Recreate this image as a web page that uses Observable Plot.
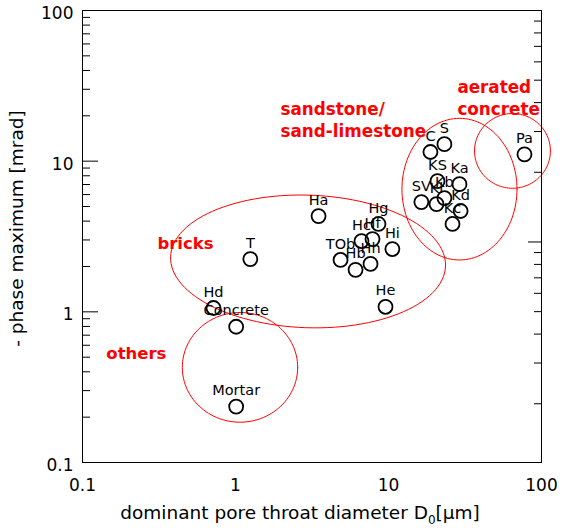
<!DOCTYPE html>
<html><head><meta charset="utf-8">
<script src="https://cdn.jsdelivr.net/npm/d3@7"></script>
<script src="https://cdn.jsdelivr.net/npm/@observablehq/plot@0.6"></script>
<style>body{margin:0;background:#fff}</style>
</head><body><div id="chart"></div>
<script>
// samples
const sampleNames  = ["Pa","S","C","KS","Ka","SV","Kl","Kb","Kd","Kc","Ha","Hg","Hc","Hf","Hi","TOb","Hb","Hh","He","T","Hd","Concrete","Mortar"];
const poreDiameter = [77.4,23.2,18.8,20.9,29.1,16.4,20.6,23.2,29.6,26.2,3.49,8.6,6.66,7.86,10.6,4.86,6.09,7.63,9.56,1.25,0.718,1.01,1.01];
const phaseMax     = [11.1,12.97,11.5,7.37,7.04,5.35,5.19,5.69,4.67,3.83,4.32,3.83,2.95,3.04,2.61,2.21,1.90,2.08,1.08,2.24,1.06,0.796,0.235];

// group ellipses (centre in data units, semi-axes in decades, rotation in degrees)
const groupNames = ["bricks","sandstone","aerated","others"];
const ellipseCx  = [2.98, 29.1, 64.6, 1.07];
const ellipseCy  = [2.16, 6.52, 11.7, 0.428];
const ellipseA   = [0.899, 0.376, 0.248, 0.377];
const ellipseB   = [0.440, 0.470, 0.248, 0.364];
const ellipseRot = [-2, 0, 0, 0];

// group labels
const groupLabels      = ["bricks","others","sandstone/\nsand-limestone","aerated\nconcrete"];
const groupLabelX      = [0.471, 0.225, 1.97, 28.2];
const groupLabelY      = [2.82, 0.527, 19.1, 26.5];
const groupLabelAnchor = ["middle","middle","start","start"];

// axes
const majorTicks = [0.1, 1, 10, 100];
const tickLabels = ["0.1", "1", "10", "100"];
const minorMultipliers = [2,3,4,5,6,7,8,9];
// unlabeled secondary log axis on the right
const rightDomain = [0.1115, 10];
const rightMajor  = [1, 10];
const xTitle = "dominant pore throat diameter D0[μm]";
const yTitle = "- phase maximum [mrad]";

const points = sampleNames.map((n,i)=>({name:n, x:poreDiameter[i], y:phaseMax[i]}));
const ellipsePts = groupNames.flatMap((g,i)=>d3.range(0,361,3).map(deg=>{
  const t=deg*Math.PI/180, r=ellipseRot[i]*Math.PI/180;
  const ex=ellipseA[i]*Math.cos(t), ey=ellipseB[i]*Math.sin(t);
  return {g, x:Math.pow(10, Math.log10(ellipseCx[i]) + ex*Math.cos(r) - ey*Math.sin(r)),
             y:Math.pow(10, Math.log10(ellipseCy[i]) + ex*Math.sin(r) + ey*Math.cos(r))};
}));
const groupText = groupLabels.map((t,i)=>({t, x:groupLabelX[i], y:groupLabelY[i], a:groupLabelAnchor[i]}));
const minorTicks = majorTicks.slice(0,-1).flatMap(d=>minorMultipliers.map(m=>d*m));
const fmt = d => tickLabels[majorTicks.indexOf(d)];

// map right-axis values onto the left (y) scale
const lLo = Math.log10(0.1), lHi = Math.log10(100);
const rLo = Math.log10(rightDomain[0]), rHi = Math.log10(rightDomain[1]);
const toLeft = v => Math.pow(10, lLo + (Math.log10(v)-rLo)/(rHi-rLo)*(lHi-lLo));
const rightMinor = [0.1, 1].flatMap(d=>minorMultipliers.map(m=>d*m)).filter(v=>v>=rightDomain[0] && v<=rightDomain[1]);

const W=562, H=532, mL=82, mR=21, mT=10, mB=70;
const iw = W-mL-mR, ih = H-mT-mB;

const chart = Plot.plot({
  width: W, height: H,
  marginLeft: mL, marginRight: mR, marginTop: mT, marginBottom: mB,
  style: {fontFamily: "DejaVu Sans", fontSize: "14px", background: "white", color: "black"},
  x: {type: "log", domain: [0.1, 100]},
  y: {type: "log", domain: [0.1, 100]},
  marks: [
    Plot.line(ellipsePts, {x:"x", y:"y", z:"g", stroke:"red", strokeWidth:1}),
    Plot.text(groupText.filter(d=>d.a==="middle"), {x:"x", y:"y", text:"t", fill:"red", fontWeight:"bold", fontSize:16.5, textAnchor:"middle"}),
    Plot.text(groupText.filter(d=>d.a==="start"), {x:"x", y:"y", text:"t", fill:"red", fontWeight:"bold", fontSize:16.8, textAnchor:"start", lineHeight:1.3}),
    Plot.text(points, {x:"x", y:"y", text:"name", dy:-16, fontSize:14.5, fill:"black"}),
    Plot.dot(points, {x:"x", y:"y", r:7, stroke:"black", strokeWidth:1.8, fill:"none"}),
    Plot.tickY(minorTicks, {y:d=>d, insetRight: iw-8, stroke:"black"}),
    Plot.tickY(majorTicks, {y:d=>d, insetRight: iw-16, stroke:"black"}),
    Plot.tickY(rightMinor, {y:d=>toLeft(d), insetLeft: iw-7, stroke:"black"}),
    Plot.tickY(rightMajor, {y:d=>toLeft(d), insetLeft: iw-13, stroke:"black"}),
    Plot.axisY(majorTicks, {tickSize:0, tickPadding:9, fontSize:17, dy:3, tickFormat:fmt, label:null}),
    Plot.axisX(majorTicks, {tickSize:0, tickPadding:16, fontSize:17, tickFormat:fmt, label:null}),
    Plot.text([yTitle], {frameAnchor:"left", textAnchor:"middle", rotate:-90, dx:-65, dy:-8, fontSize:18.5}),
    Plot.text([xTitle], {frameAnchor:"bottom", textAnchor:"middle", dy:56, dx:-12, fontSize:18.5}),
    Plot.frame({stroke:"black", strokeWidth:1})
  ]
});
document.getElementById("chart").appendChild(chart);

// subscript in x title
for (const t of chart.querySelectorAll("text")) {
  if (t.textContent === xTitle) {
    const ns = "http://www.w3.org/2000/svg";
    while (t.firstChild) t.removeChild(t.firstChild);
    const a = document.createElementNS(ns,"tspan"); a.textContent = "dominant pore throat diameter D";
    const b = document.createElementNS(ns,"tspan"); b.textContent = "0"; b.setAttribute("dy","5"); b.setAttribute("font-size","12");
    const c = document.createElementNS(ns,"tspan"); c.textContent = "[μm]"; c.setAttribute("dy","-5");
    t.append(a,b,c);
  }
}
</script>
</body></html>
